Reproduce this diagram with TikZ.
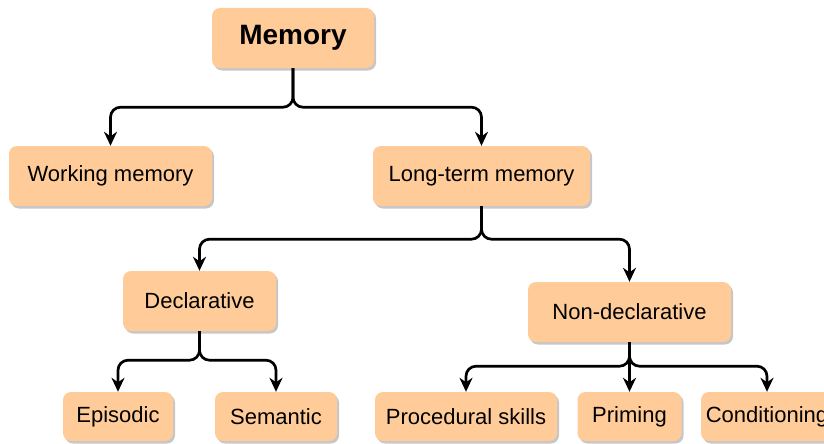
\documentclass[tikz,border=0pt]{standalone}
\usepackage{fontspec}
\setmainfont{Liberation Sans}
\usetikzlibrary{arrows.meta,shadows}
\definecolor{boxfill}{HTML}{FFCC99}
\begin{document}
\begin{tikzpicture}[x=1pt,y=-1pt,
  box/.style={rectangle, rounded corners=8pt, fill=boxfill, draw=none, inner sep=0pt,
    drop shadow={shadow xshift=2pt, shadow yshift=-2.5pt, fill=black, opacity=0.22},
    font=\fontsize{22}{26}\selectfont, minimum height=60pt},
  lowbox/.style={box, minimum height=49pt},
  link/.style={line width=2.7pt, rounded corners=10pt,
    -{Stealth[length=14pt,width=13pt,inset=4.5pt]}}]
\clip (0,0) rectangle (824,444);
\fill[white] (0,0) rectangle (824,444);
\node[box, minimum width=162pt, font=\bfseries\fontsize{28}{32}\selectfont] (mem) at (293,38) {Memory};
\node[box, minimum width=203pt] (wm) at (110.5,176) {Working memory};
\node[box, minimum width=217pt] (lt) at (481.5,176) {Long-term memory};
\node[box, minimum width=153pt] (dec) at (199.5,301) {Declarative};
\node[box, minimum width=203pt] (nd) at (629.5,312) {Non-declarative};
\node[lowbox, minimum width=110pt] (epi) at (118,416.5) {Episodic};
\node[lowbox, minimum width=122pt] (sem) at (276,416.5) {Semantic};
\node[lowbox, minimum width=182pt] (proc) at (466,416.5) {Procedural skills};
\node[lowbox, minimum width=104pt] (prim) at (629.5,416.5) {Priming};
\node[lowbox, minimum width=132pt] (cond) at (767,416.5) {Conditioning};
\draw[link] (mem.south) -- ++(0,39) -| (wm.north);
\draw[link] (mem.south) -- ++(0,39) -| (lt.north);
\draw[link] (lt.south) -- ++(0,33) -| (dec.north);
\draw[link] (lt.south) -- ++(0,33) -| (nd.north);
\draw[link] (dec.south) -- ++(0,29) -| (epi.north);
\draw[link] (dec.south) -- ++(0,29) -| (sem.north);
\draw[link] (nd.south) -- ++(0,24) -| (proc.north);
\draw[link] (nd.south) -- (prim.north);
\draw[link] (nd.south) -- ++(0,24) -| (cond.north);
\end{tikzpicture}
\end{document}
